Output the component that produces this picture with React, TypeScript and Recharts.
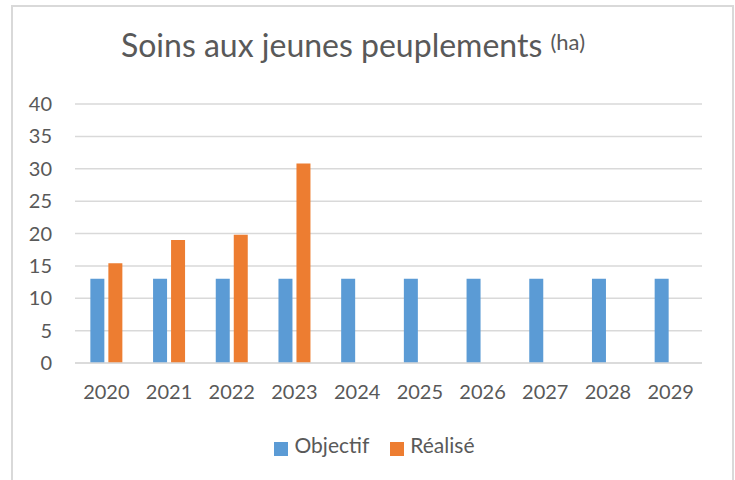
import { Bar, BarChart, CartesianGrid, XAxis, YAxis, Legend } from "recharts"

const years = ["2020", "2021", "2022", "2023", "2024", "2025", "2026", "2027", "2028", "2029"];
const objectif = [13, 13, 13, 13, 13, 13, 13, 13, 13, 13];
const realise: (number | null)[] = [15.4, 19, 19.8, 30.8, null, null, null, null, null, null];
const yTicks = [0, 5, 10, 15, 20, 25, 30, 35, 40];

const data = years.map((name, i) => ({
  name,
  Objectif: objectif[i],
  "Réalisé": realise[i],
}));

const font = "Lato, 'Open Sans', sans-serif";
const textColor = "#595959";

export default function App() {
  return (
    <div style={{ position: "absolute", top: 0, left: 0, width: 735, height: 480, background: "#fff", overflow: "hidden", fontFamily: font }}>
      <div style={{ position: "absolute", left: 11, top: 5, width: 719, height: 490, border: "2px solid #d9d9d9", borderBottom: "none" }} />
      <div style={{ position: "absolute", left: 0, top: 26, width: 706, textAlign: "center", fontSize: 32, color: textColor, lineHeight: "38px", whiteSpace: "nowrap" }}>
        Soins aux jeunes peuplements <sup style={{ fontSize: 22, verticalAlign: "top", position: "relative", top: -3 }}>(ha)</sup>
      </div>
      <div style={{ position: "absolute", top: 0, left: 0 }}>
        <BarChart width={735} height={480} data={data} margin={{ top: 104, right: 33, bottom: 18, left: 0 }} barCategoryGap="24.5%" barGap={4}>
          <CartesianGrid vertical={false} stroke="#d9d9d9" strokeWidth={1.5} />
          <XAxis dataKey="name" axisLine={{ stroke: "#d9d9d9", strokeWidth: 1.5 }} tickLine={false} tickSize={0} tickMargin={22} height={69} tick={{ fill: textColor, fontSize: 20, fontFamily: font }} />
          <YAxis domain={[0, 40]} ticks={yTicks} axisLine={false} tickLine={false} tickSize={0} tickMargin={23} width={75} tick={{ fill: textColor, fontSize: 20, fontFamily: font }} />
          <Legend
            verticalAlign="bottom"
            height={30}
            iconType="square"
            iconSize={14}
            wrapperStyle={{ left: 34, width: 702 }}
            formatter={(v: string) => <span style={{ color: textColor, fontSize: 21, fontFamily: font, marginLeft: 2, marginRight: 11 }}>{v}</span>}
          />
          <Bar dataKey="Objectif" fill="#5b9bd5" isAnimationActive={false} />
          <Bar dataKey="Réalisé" fill="#ed7d31" isAnimationActive={false} />
        </BarChart>
      </div>
    </div>
  )
}
